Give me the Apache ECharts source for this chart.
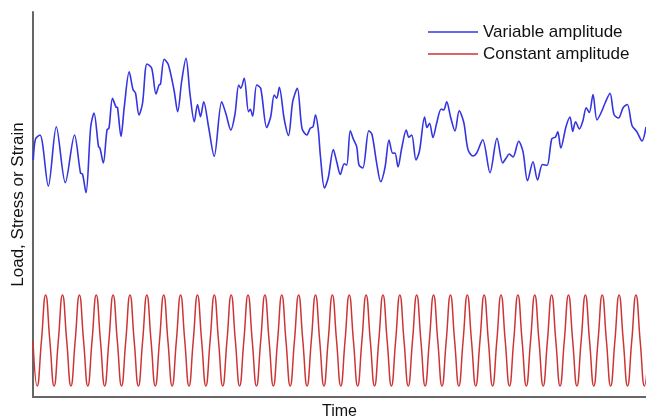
<!DOCTYPE html>
<html><head><meta charset="utf-8">
<script src="https://cdn.jsdelivr.net/npm/echarts@6/dist/echarts.min.js"></script>
<style>html,body{margin:0;padding:0;background:#fff}#c{width:646px;height:418px}</style>
</head><body><div id="c"></div>
<script>
// Variable amplitude signal: [time, load]
const blueTime = [0.3,2.5,7,15.3,23.3,32.3,41.5,47.5,49.5,53,57.7,61,65.5,67,70.3,74,76,79.5,83,84.5,88,91.3,96.2,100,102.5,106,109.5,114,118.7,123,126,127.5,131.2,135.3,141,144.7,148.7,153,157,161.3,164.5,167.5,170.7,175.5,181.2,188.7,193,197.8,202,205.7,207.8,211.2,215.5,217.3,219.7,223.7,227.7,233.7,237.7,241.2,243.7,246.3,251.2,255.5,259.7,264.3,269,273.7,277.3,280,282.5,285.3,287.5,291.5,295.3,300.3,303.7,307.3,311.2,313.7,317.3,320.3,323.7,326,329.8,335.8,339,343.7,347.7,352,356,359.7,362,365,368.7,373.3,375.8,378.7,383,386.5,391.6,394,396.5,400,403.7,408.2,410.7,413.7,417.5,422,426.2,430.8,435,440,443.7,449.7,457,464,469.7,473,476.3,480,485.7,490,494.5,500,504.5,509.5,514,518.8,522.5,524.8,527.8,533,537,539.7,542.6,546.3,549.7,553.3,556.3,560,564,568.2,572.3,577,581,585.5,590,594.3,599,603.7,609,613];
const blueLoad = [237,258,262,211,270.3,214.3,262,224,223,204.3,270,284,250.5,248.7,234,267,269,298.7,290,289.5,260.5,290.3,325.3,307.5,304,282,293.5,333,328.7,303,312,313,337.8,332.5,307,285.3,316,338.7,303,275.3,292.5,280.3,295.3,270.5,240.7,295.3,283,267,283,312,308.7,318.7,285.3,287.7,280.7,312,308.7,269.5,280.3,302,298.7,309.7,278,261.5,295.3,308.7,268.7,262,268.7,270.3,282,267,240,209,219.5,247.4,235.3,222.5,233.3,232,266.3,258,250.3,232,229,266.3,262.5,233.7,215.3,229.5,257,243.7,244,230,248.7,267,259.7,262,237,246,280,269.5,273.7,259.5,274,288,287,295.3,280.3,266,286.2,274.5,247.4,241,244,257.3,224.3,258.7,234,238.7,243,240,255.8,245.3,216.2,235.3,217,232.5,231.5,258.2,260,265.3,249,270.3,280,265.5,275.3,268,275.5,289.2,284.5,302.5,277,284.5,294.5,303.7,282.5,279,289,292.5,271.5,265.5,256,270];
// Constant amplitude signal, sampled every quarter cycle
const redStep = 4.2165;
const redLoad = [
56,11,56,102, 56,11,56,102, 56,11,56,102, 56,11,56,102, 56,11,56,102, 56,11,56,102,
56,11,56,102, 56,11,56,102, 56,11,56,102, 56,11,56,102, 56,11,56,102, 56,11,56,102,
56,11,56,102, 56,11,56,102, 56,11,56,102, 56,11,56,102, 56,11,56,102, 56,11,56,102,
56,11,56,102, 56,11,56,102, 56,11,56,102, 56,11,56,102, 56,11,56,102, 56,11,56,102,
56,11,56,102, 56,11,56,102, 56,11,56,102, 56,11,56,102, 56,11,56,102, 56,11,56,102,
56,11,56,102, 56,11,56,102, 56,11,56,102, 56,11,56,102, 56,11,56,102, 56,11,56,102,
56,11,56];
const seriesNames = ['Variable amplitude', 'Constant amplitude'];
const axisNames = ['Time', 'Load, Stress or Strain'];

const blueData = blueTime.map((t, i) => [t, blueLoad[i]]);
const redData = redLoad.map((v, i) => [i * redStep, v]);
const font = 'Liberation Sans, Arial, Helvetica, sans-serif';

const chart = echarts.init(document.getElementById('c'), null, {renderer: 'canvas'});
chart.setOption({
  animation: false,
  backgroundColor: '#fff',
  grid: {left: 33, right: 0, top: 12, bottom: 21, containLabel: false, outerBoundsMode: 'none'},
  legend: {
    orient: 'vertical', left: 428, top: 23.5, padding: 0,
    icon: 'rect', itemWidth: 50, itemHeight: 1.5, itemGap: 5,
    textStyle: {fontFamily: font, fontSize: 17, color: '#111'},
    data: seriesNames
  },
  xAxis: {
    type: 'value', min: 0, max: 613,
    name: axisNames[0], nameLocation: 'middle', nameGap: 7,
    nameTextStyle: {fontFamily: font, fontSize: 16, color: '#111', verticalAlign: 'top'},
    axisLine: {show: true, lineStyle: {color: '#666', width: 2}},
    axisTick: {show: false}, axisLabel: {show: false}, splitLine: {show: false}
  },
  yAxis: {
    type: 'value', min: 0, max: 385,
    name: axisNames[1], nameLocation: 'middle', nameGap: 6,
    nameTextStyle: {fontFamily: font, fontSize: 17, color: '#111'},
    axisLine: {show: true, lineStyle: {color: '#666', width: 2}},
    axisTick: {show: false}, axisLabel: {show: false}, splitLine: {show: false}
  },
  series: [
    {name: seriesNames[0], type: 'line', data: blueData, showSymbol: false, smooth: 0.3,
     lineStyle: {color: '#3434e0', width: 1.6}, itemStyle: {color: '#3434e0'}},
    {name: seriesNames[1], type: 'line', data: redData, showSymbol: false, smooth: true,
     lineStyle: {color: '#cc3535', width: 1.5}, itemStyle: {color: '#cc3535'}}
  ]
});
</script></body></html>
